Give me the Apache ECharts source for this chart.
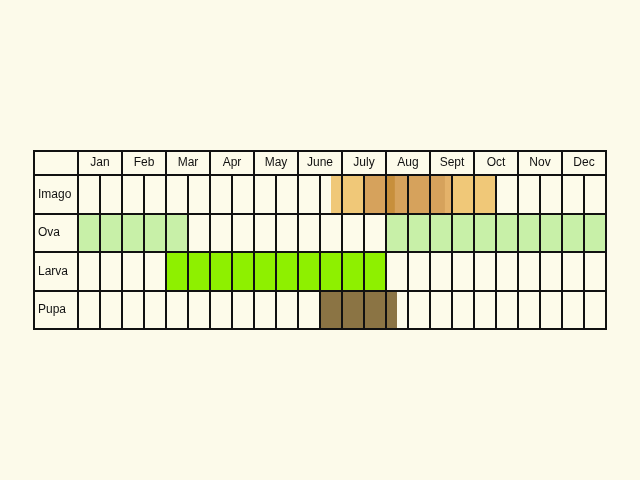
<!DOCTYPE html>
<html><head><meta charset="utf-8">
<script src="https://cdn.jsdelivr.net/npm/echarts@6/dist/echarts.min.js"></script>
<style>html,body{margin:0;background:#fcfaea;}#c{width:640px;height:480px;}</style>
</head><body><div id="c"></div>
<script>
const months = ['Jan','Feb','Mar','Apr','May','June','July','Aug','Sept','Oct','Nov','Dec'];
const stages = ['Imago','Ova','Larva','Pupa'];
const rowEdges = [0,24,63,101,140,178];
// [stageIndex, startMonth, endMonth, color]
const imagoBands = [[0,5.75,9.5,'#f0c878'],[0,6.5,8.34,'#d6a25c'],[0,7,7.2,'#c78f3c'],[0,8.34,8.5,'#e4b26a']];
const ovaBands = [[1,0,2.5,'#c8f0a8'],[1,7,12,'#c8f0a8']];
const larvaBands = [[2,2,7,'#8ef000']];
const pupaBands = [[3,5.5,7.25,'#8b7444']];
const bands = [].concat(imagoBands, ovaBands, larvaBands, pupaBands);

const chart = echarts.init(document.getElementById('c'));
const lineStyle = {stroke:'#111', lineWidth:2};
chart.setOption({
  backgroundColor:'#fcfaea',
  animation:false,
  grid:{left:34,right:34,top:151,bottom:151},
  xAxis:{type:'value',min:-1,max:12,show:false},
  yAxis:{type:'value',min:0,max:178,inverse:true,show:false},
  series:[
    {type:'custom',data:[0],renderItem:function(p,api){
      const a=api.coord([-1,0]), b=api.coord([12,178]);
      return {type:'rect',shape:{x:a[0],y:a[1],width:b[0]-a[0],height:b[1]-a[1]},style:{fill:'#fdfbea'}};
    }},
    {type:'custom',data:bands,renderItem:function(p,api){
      const d=bands[p.dataIndex];
      const a=api.coord([d[1],rowEdges[d[0]+1]]), b=api.coord([d[2],rowEdges[d[0]+2]]);
      return {type:'rect',shape:{x:a[0],y:a[1],width:b[0]-a[0],height:b[1]-a[1]},style:{fill:d[3]}};
    }},
    {type:'custom',data:[0],renderItem:function(p,api){
      const ch=[];
      rowEdges.forEach(function(y){
        const a=api.coord([-1,y]), b=api.coord([12,y]);
        ch.push({type:'line',shape:{x1:a[0]-1,y1:a[1],x2:b[0]+1,y2:b[1]},style:lineStyle});
      });
      for(let m=-1;m<=12;m++){
        const a=api.coord([m,0]), b=api.coord([m,178]);
        ch.push({type:'line',shape:{x1:a[0],y1:a[1],x2:b[0],y2:b[1]},style:lineStyle});
        if(m>=0&&m<12){
          const c=api.coord([m+0.5,24]), e=api.coord([m+0.5,178]);
          ch.push({type:'line',shape:{x1:c[0],y1:c[1],x2:e[0],y2:e[1]},style:lineStyle});
        }
      }
      months.forEach(function(n,i){
        const c=api.coord([i+0.5,12]);
        ch.push({type:'text',x:c[0],y:c[1],style:{text:n,align:'center',verticalAlign:'middle',fill:'#111',font:'12px "Liberation Sans", Arial'}});
      });
      stages.forEach(function(n,i){
        const c=api.coord([-1,(rowEdges[i+1]+rowEdges[i+2])/2]);
        ch.push({type:'text',x:c[0]+4,y:c[1],style:{text:n,align:'left',verticalAlign:'middle',fill:'#111',font:'12px "Liberation Sans", Arial'}});
      });
      return {type:'group',children:ch};
    }}
  ]
});
</script></body></html>
